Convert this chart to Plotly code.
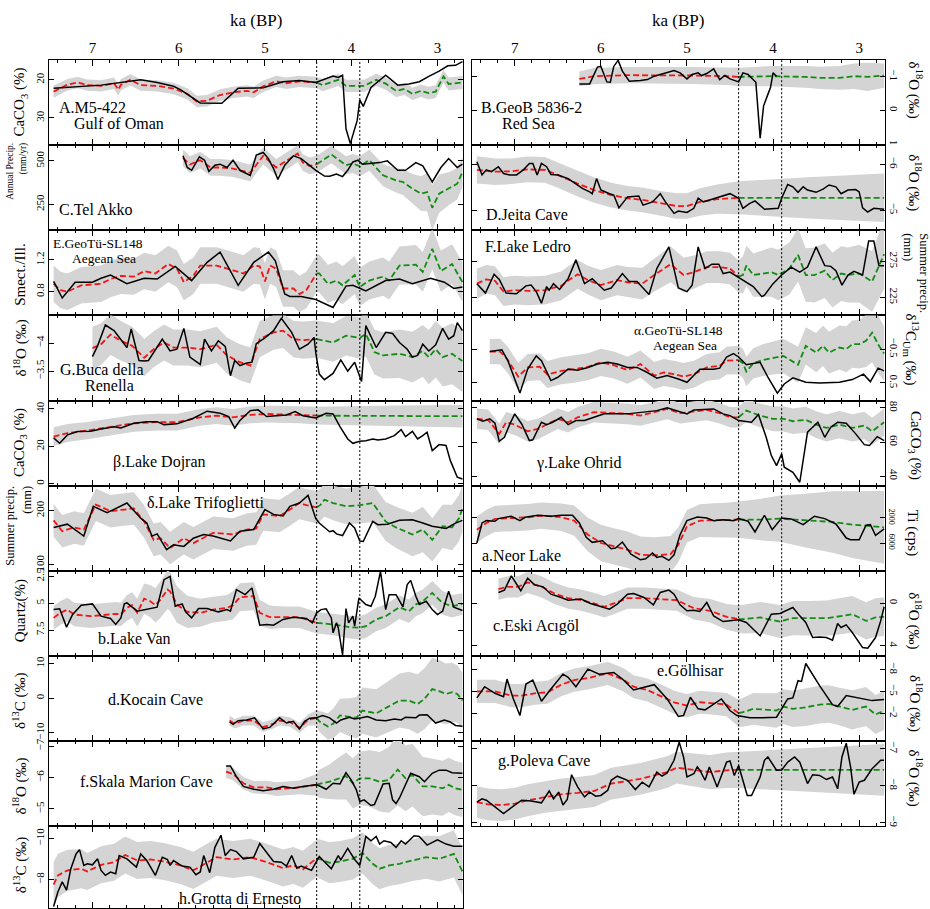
import plotly.graph_objects as go

W, H = 930, 909
FONT = "Liberation Serif"
SPLIT = 4.4
EVENTS = [4.4, 3.9]

# ---------------- data (ka BP, values) ----------------
# A. M5-422 Gulf of Oman, CaCO3 (%)
A_obs_ka = [7.45, 6.90, 6.44, 6.25, 6.06, 5.98, 5.75, 5.50, 5.31, 5.02, 4.79, 4.60, 4.41, 4.21, 4.15, 4.10, 4.06, 4.01, 3.93, 3.90, 3.86, 3.77, 3.60, 3.46, 3.33, 3.21, 3.10, 2.98, 2.88, 2.79, 2.71]
A_obs = [22.2, 21.4, 20.0, 20.7, 21.7, 22.6, 26.1, 26.2, 22.2, 22.1, 20.5, 20.2, 20.7, 19.0, 19.4, 18.8, 32.9, 36.8, 30.7, 25.3, 27.0, 22.0, 18.8, 21.4, 21.1, 20.5, 19.1, 17.7, 16.3, 16.2, 15.2]
A_fit_ka = [7.45, 7.29, 7.17, 7.06, 6.90, 6.75, 6.70, 6.67, 6.56, 6.44, 6.25, 6.06, 5.90, 5.79, 5.67, 5.52, 5.37, 5.21, 5.13, 5.02, 4.87, 4.75, 4.60, 4.40, 4.33, 4.15, 4.06, 3.85, 3.71, 3.60, 3.48, 3.38, 3.29, 3.19, 3.10, 3.02, 2.93, 2.87, 2.71]
A_fit = [23.1, 21.3, 20.7, 21.4, 21.6, 20.9, 22.6, 21.3, 20.0, 21.4, 21.6, 22.3, 23.7, 25.7, 25.5, 24.0, 23.3, 22.9, 23.3, 21.7, 20.4, 20.9, 20.4, 20.7, 21.4, 20.0, 21.6, 21.6, 20.0, 21.0, 22.9, 22.4, 23.7, 22.9, 23.5, 23.1, 19.1, 21.1, 20.7]
A_fit_hw = [1.6, 1.5, 1.5, 1.5, 1.5, 1.5, 1.5, 1.5, 1.5, 1.5, 1.5, 1.5, 1.5, 1.5, 1.5, 1.5, 1.5, 1.5, 1.5, 1.5, 1.5, 1.5, 1.5, 1.5, 1.6, 1.6, 1.6, 1.6, 1.6, 1.6, 1.6, 1.6, 1.6, 1.6, 1.7, 1.7, 1.7, 1.7, 1.7]

# C. Tel Akko, annual precip (mm/yr)
C_obs_ka = [5.95, 5.90, 5.85, 5.76, 5.70, 5.65, 5.58, 5.52, 5.44, 5.37, 5.29, 5.17, 5.10, 5.02, 4.96, 4.90, 4.85, 4.77, 4.67, 4.58, 4.41, 4.31, 4.25, 4.17, 4.10, 4.04, 3.98, 3.92, 3.87, 3.67, 3.58, 3.46, 3.37, 3.25, 3.17, 3.06, 2.96, 2.87, 2.77, 2.71]
C_obs = [529, 462, 446, 523, 504, 440, 475, 481, 462, 504, 446, 417, 533, 548, 513, 456, 394, 475, 529, 513, 446, 413, 412, 425, 410, 446, 494, 504, 481, 490, 500, 446, 446, 490, 471, 379, 462, 513, 462, 481]
C_fit_ka = [5.95, 5.87, 5.75, 5.63, 5.52, 5.37, 5.17, 5.02, 4.87, 4.71, 4.62, 4.56, 4.48, 4.40, 4.37, 4.23, 4.06, 3.98, 3.90, 3.79, 3.63, 3.48, 3.40, 3.29, 3.19, 3.12, 3.06, 2.98, 2.87, 2.77, 2.71]
C_fit = [517, 479, 504, 462, 462, 456, 431, 529, 462, 510, 542, 490, 471, 481, 490, 537, 475, 485, 469, 504, 417, 388, 379, 340, 312, 321, 231, 312, 340, 369, 437]
C_fit_hw = [48, 48, 48, 48, 48, 48, 48, 48, 48, 48, 48, 48, 48, 48, 48, 50, 52, 55, 58, 60, 63, 70, 75, 85, 100, 110, 130, 110, 95, 90, 85]

# E. GeoTü-SL148 Aegean Sea, Smect./Ill.
E_obs_ka = [7.45, 7.35, 7.20, 7.00, 6.90, 6.79, 6.60, 6.40, 6.25, 6.04, 5.85, 5.67, 5.52, 5.31, 5.13, 4.96, 4.88, 4.77, 4.71, 4.58, 4.41, 4.21, 4.06, 3.98, 3.83, 3.71, 3.60, 3.44, 3.29, 3.08, 2.92, 2.81, 2.71]
E_obs = [0.93, 0.72, 0.92, 0.92, 0.97, 1.01, 0.90, 0.97, 0.96, 1.12, 0.94, 1.17, 1.30, 0.88, 1.17, 1.30, 1.19, 0.77, 0.74, 0.74, 0.70, 0.60, 0.87, 0.88, 0.81, 0.88, 0.94, 0.96, 0.90, 0.97, 0.92, 0.84, 0.86]
E_fit_ka = [7.45, 7.37, 7.29, 7.13, 6.90, 6.79, 6.67, 6.52, 6.40, 6.27, 6.12, 6.02, 5.94, 5.83, 5.75, 5.56, 5.37, 5.25, 5.13, 5.06, 5.00, 4.94, 4.87, 4.79, 4.67, 4.60, 4.52, 4.40, 4.37, 4.27, 4.17, 4.10, 3.96, 3.90, 3.79, 3.63, 3.56, 3.44, 3.25, 3.17, 3.06, 2.96, 2.83, 2.71]
E_fit = [0.90, 0.82, 0.80, 0.88, 0.90, 0.96, 1.00, 0.99, 1.06, 1.03, 1.15, 1.09, 0.92, 1.00, 1.13, 1.13, 1.07, 1.03, 1.13, 1.12, 0.93, 1.13, 1.09, 0.84, 0.84, 0.77, 0.82, 1.03, 1.03, 0.90, 0.94, 0.88, 1.01, 0.86, 0.94, 0.99, 0.94, 1.13, 1.14, 1.05, 1.34, 1.06, 1.15, 0.92]
E_fit_hw = [0.23, 0.23, 0.23, 0.23, 0.23, 0.23, 0.23, 0.23, 0.23, 0.23, 0.23, 0.23, 0.23, 0.23, 0.23, 0.23, 0.23, 0.23, 0.23, 0.23, 0.23, 0.23, 0.23, 0.23, 0.23, 0.23, 0.23, 0.23, 0.24, 0.24, 0.24, 0.24, 0.24, 0.24, 0.24, 0.24, 0.24, 0.24, 0.25, 0.25, 0.26, 0.26, 0.25, 0.25]

# G. Buca della Renella, d18O
G_obs_ka = [7.00, 6.94, 6.85, 6.75, 6.60, 6.55, 6.46, 6.40, 6.35, 6.27, 6.19, 6.10, 6.02, 5.94, 5.87, 5.75, 5.70, 5.62, 5.54, 5.46, 5.40, 5.35, 5.29, 5.22, 5.15, 5.10, 5.00, 4.90, 4.81, 4.69, 4.60, 4.50, 4.43, 4.41, 4.37, 4.31, 4.21, 4.12, 4.04, 3.96, 3.88, 3.83, 3.71, 3.60, 3.52, 3.44, 3.35, 3.29, 3.23, 3.17, 3.10, 3.02, 2.94, 2.87, 2.81, 2.77, 2.71]
G_obs = [-3.76, -3.95, -4.32, -4.22, -3.92, -4.25, -3.69, -3.68, -3.69, -3.89, -4.07, -3.86, -3.89, -4.26, -3.75, -3.62, -4.07, -3.86, -4.04, -3.94, -3.42, -3.69, -3.60, -3.64, -3.66, -3.99, -4.09, -4.22, -4.44, -4.19, -3.89, -3.98, -4.10, -3.82, -3.45, -3.35, -3.46, -3.70, -3.50, -3.66, -3.32, -4.31, -3.92, -4.19, -4.17, -4.01, -3.89, -3.75, -3.78, -3.98, -3.86, -3.97, -4.26, -4.07, -4.13, -4.36, -4.22]
G_fit_ka = [7.00, 6.90, 6.79, 6.67, 6.54, 6.44, 6.40, 6.29, 6.17, 6.06, 5.90, 5.75, 5.56, 5.44, 5.29, 5.17, 5.06, 4.90, 4.79, 4.67, 4.56, 4.40, 4.21, 4.06, 3.90, 3.83, 3.73, 3.63, 3.44, 3.29, 3.17, 3.10, 3.02, 2.94, 2.83, 2.71]
G_fit = [-3.91, -3.98, -4.15, -4.04, -3.95, -3.81, -3.74, -3.89, -4.01, -3.92, -3.92, -3.89, -3.97, -3.78, -3.66, -3.60, -4.07, -4.19, -4.22, -4.07, -4.05, -4.07, -4.01, -4.13, -4.09, -4.16, -3.84, -3.78, -3.81, -3.75, -3.86, -3.75, -3.89, -3.75, -3.81, -3.68]
G_fit_hw = [0.38, 0.37, 0.36, 0.35, 0.34, 0.33, 0.33, 0.32, 0.32, 0.32, 0.32, 0.32, 0.32, 0.32, 0.32, 0.32, 0.32, 0.31, 0.31, 0.32, 0.33, 0.33, 0.34, 0.35, 0.37, 0.40, 0.40, 0.41, 0.43, 0.45, 0.46, 0.48, 0.50, 0.52, 0.54, 0.55]

# beta. Lake Dojran, CaCO3 (%)
Beta_obs_ka = [7.45, 7.38, 7.29, 7.17, 7.02, 6.90, 6.75, 6.67, 6.52, 6.37, 6.25, 6.17, 6.02, 5.83, 5.67, 5.52, 5.42, 5.35, 5.29, 5.17, 5.08, 4.98, 4.87, 4.75, 4.65, 4.56, 4.41, 4.29, 4.21, 4.13, 4.04, 3.98, 3.90, 3.83, 3.75, 3.69, 3.60, 3.50, 3.42, 3.37, 3.29, 3.23, 3.17, 3.12, 3.06, 2.98, 2.90, 2.85, 2.81, 2.77, 2.71]
Beta_obs = [24.5, 21.6, 26.1, 27.9, 28.0, 29.3, 30.5, 29.8, 32.3, 33.2, 33.2, 31.6, 32.0, 35.0, 38.8, 37.7, 35.9, 29.8, 33.8, 39.1, 39.5, 35.9, 36.4, 36.8, 38.6, 36.4, 35.2, 37.7, 37.3, 30.5, 23.9, 21.6, 22.7, 23.0, 23.9, 23.4, 23.9, 25.7, 28.9, 25.2, 28.0, 23.9, 25.7, 27.5, 17.7, 20.9, 20.4, 12.3, 7.9, 3.4, 2.5]
Beta_fit_ka = [7.45, 7.29, 7.06, 6.79, 6.52, 6.25, 6.02, 5.75, 5.56, 5.37, 5.17, 4.98, 4.79, 4.60, 4.40, 3.50, 2.71]
Beta_fit = [25.2, 27.1, 28.4, 30.2, 32.3, 32.9, 32.9, 35.5, 36.4, 35.5, 36.8, 37.3, 37.0, 37.0, 36.4, 36.3, 36.1]
Beta_fit_hw = [5.0, 4.8, 4.6, 4.5, 4.5, 4.5, 4.5, 4.5, 4.5, 4.5, 4.5, 4.5, 4.5, 4.6, 4.8, 5.5, 6.0]

# delta. Lake Trifoglietti, summer precip (mm)
Delta_obs_ka = [7.45, 7.29, 7.10, 6.99, 6.83, 6.60, 6.44, 6.37, 6.31, 6.25, 6.14, 6.06, 5.94, 5.83, 5.71, 5.60, 5.40, 5.29, 5.13, 5.00, 4.90, 4.79, 4.71, 4.60, 4.50, 4.41, 4.37, 4.25, 4.21, 4.17, 4.10, 4.02, 3.96, 3.90, 3.86, 3.75, 3.69, 3.58, 3.44, 3.29, 3.17, 3.06, 2.90, 2.79, 2.71]
Delta_obs = [169, 175, 153, 208, 196, 214, 186, 177, 153, 157, 128, 137, 134, 149, 156, 153, 144, 162, 165, 202, 193, 190, 208, 214, 228, 185, 177, 161, 163, 157, 154, 177, 168, 144, 143, 180, 174, 175, 182, 183, 177, 171, 167, 177, 182]
Delta_fit_ka = [7.45, 7.35, 7.21, 7.10, 6.96, 6.79, 6.63, 6.52, 6.40, 6.29, 6.21, 6.10, 5.94, 5.83, 5.60, 5.37, 5.21, 5.10, 5.02, 4.83, 4.71, 4.60, 4.52, 4.40, 4.36, 4.31, 4.21, 4.06, 3.90, 3.75, 3.60, 3.48, 3.29, 3.17, 3.06, 2.94, 2.83, 2.75, 2.71]
Delta_fit = [182, 162, 169, 165, 211, 199, 202, 204, 180, 146, 149, 131, 149, 140, 159, 156, 165, 167, 193, 190, 202, 214, 210, 206, 210, 220, 214, 208, 210, 214, 180, 169, 156, 165, 146, 171, 169, 186, 204]
Delta_fit_hw = [30, 30, 30, 30, 30, 30, 30, 30, 30, 30, 30, 30, 30, 30, 30, 30, 30, 30, 30, 30, 30, 30, 30, 30, 30, 31, 32, 33, 34, 35, 36, 38, 40, 42, 40, 40, 42, 43, 43]

# b. Lake Van, Quartz (%)
Van_obs_ka = [7.45, 7.38, 7.30, 7.23, 7.13, 7.00, 6.90, 6.79, 6.73, 6.67, 6.63, 6.60, 6.48, 6.37, 6.25, 6.17, 6.10, 6.04, 5.96, 5.92, 5.85, 5.77, 5.67, 5.54, 5.44, 5.40, 5.33, 5.23, 5.15, 5.06, 4.98, 4.90, 4.79, 4.67, 4.52, 4.45, 4.40, 4.35, 4.29, 4.23, 4.21, 4.17, 4.15, 4.10, 4.06, 4.03, 3.98, 3.96, 3.91, 3.83, 3.77, 3.72, 3.66, 3.60, 3.56, 3.48, 3.40, 3.35, 3.31, 3.25, 3.21, 3.13, 3.06, 3.00, 2.94, 2.87, 2.81, 2.71]
Van_obs = [5.59, 5.52, 7.22, 6.05, 5.18, 5.06, 6.20, 6.42, 6.97, 6.36, 5.06, 4.97, 5.74, 5.59, 5.37, 2.81, 2.50, 5.28, 5.06, 5.80, 6.36, 5.49, 5.49, 5.80, 5.59, 5.74, 3.73, 4.20, 3.58, 7.04, 6.97, 7.04, 6.51, 6.30, 6.42, 6.82, 5.89, 5.59, 5.52, 6.36, 7.75, 6.82, 7.28, 9.81, 5.49, 6.82, 6.20, 7.13, 4.51, 5.12, 5.28, 4.35, 2.04, 5.59, 4.20, 4.20, 5.34, 3.27, 2.87, 4.35, 5.12, 4.81, 5.59, 6.05, 5.74, 3.89, 5.37, 5.68]
Van_fit_ka = [7.45, 7.37, 7.29, 7.21, 7.02, 6.83, 6.73, 6.67, 6.60, 6.54, 6.48, 6.40, 6.33, 6.27, 6.21, 6.13, 6.10, 6.02, 5.90, 5.75, 5.60, 5.44, 5.37, 5.29, 5.13, 5.06, 4.94, 4.79, 4.60, 4.40, 4.21, 4.02, 3.90, 3.83, 3.71, 3.60, 3.44, 3.33, 3.25, 3.17, 3.06, 2.94, 2.83, 2.71]
Van_fit = [6.36, 5.89, 5.59, 6.05, 6.20, 6.05, 5.99, 6.05, 5.43, 5.18, 5.89, 4.57, 4.81, 5.18, 4.66, 3.73, 3.89, 5.12, 5.80, 5.89, 5.59, 5.43, 5.18, 4.44, 4.35, 5.89, 6.30, 6.30, 6.30, 6.82, 6.97, 7.22, 7.28, 7.13, 6.51, 6.20, 5.37, 5.74, 5.12, 4.81, 4.04, 4.97, 5.28, 5.06]
Van_fit_hw = [1.1, 1.1, 1.1, 1.1, 1.1, 1.1, 1.1, 1.1, 1.2, 1.2, 1.3, 1.4, 1.5, 1.6, 1.7, 1.8, 1.8, 1.7, 1.5, 1.3, 1.2, 1.2, 1.3, 1.3, 1.3, 1.2, 1.1, 1.0, 1.0, 1.0, 1.0, 1.05, 1.1, 1.1, 1.1, 1.1, 1.1, 1.1, 1.1, 1.1, 1.1, 1.1, 1.05, 1.0]

# d. Kocain Cave, d13C
Koc_obs_ka = [5.41, 5.37, 5.31, 5.21, 5.12, 5.02, 4.94, 4.83, 4.75, 4.67, 4.60, 4.54, 4.48, 4.41, 4.33, 4.25, 4.17, 4.12, 4.02, 3.96, 3.88, 3.81, 3.71, 3.60, 3.50, 3.42, 3.37, 3.25, 3.21, 3.12, 3.02, 2.92, 2.85, 2.79, 2.71]
Koc_obs = [-6.9, -7.6, -6.5, -6.3, -5.7, -8.9, -8.4, -5.7, -7.2, -6.7, -8.9, -6.7, -5.8, -5.7, -5.0, -5.7, -7.2, -6.3, -5.5, -6.0, -5.7, -5.3, -6.3, -6.5, -6.0, -6.3, -5.5, -5.7, -4.9, -4.8, -7.2, -6.3, -6.9, -7.9, -8.1]
Koc_fit_ka = [5.41, 5.35, 5.25, 5.13, 5.02, 4.90, 4.83, 4.71, 4.60, 4.50, 4.40, 4.37, 4.27, 4.21, 4.13, 4.02, 3.94, 3.87, 3.71, 3.58, 3.44, 3.33, 3.23, 3.15, 3.06, 2.98, 2.90, 2.83, 2.77, 2.71]
Koc_fit = [-6.5, -7.4, -6.5, -6.5, -8.4, -7.4, -6.5, -6.9, -8.6, -6.3, -5.7, -6.7, -8.2, -7.4, -5.0, -5.5, -5.7, -3.6, -4.4, -2.6, -0.7, -0.7, -1.7, -0.2, 2.6, 2.0, 1.2, 1.7, 1.2, -0.7]
Koc_fit_hw = [1.4, 1.4, 1.4, 1.4, 1.4, 1.4, 1.4, 1.4, 1.5, 1.6, 2.2, 3.0, 3.8, 4.3, 4.8, 5.5, 6.0, 6.7, 7.0, 7.3, 7.8, 8.3, 8.6, 8.8, 9.1, 9.0, 8.8, 8.5, 8.3, 8.1]

# f. Skala Marion Cave, d18O
Sk_obs_ka = [5.45, 5.40, 5.33, 5.25, 5.13, 5.02, 4.90, 4.79, 4.67, 4.56, 4.41, 4.37, 4.29, 4.21, 4.13, 4.06, 4.00, 3.94, 3.90, 3.85, 3.77, 3.73, 3.63, 3.56, 3.52, 3.48, 3.44, 3.38, 3.31, 3.21, 3.15, 3.06, 2.98, 2.90, 2.83, 2.71]
Sk_obs = [-6.37, -6.37, -6.03, -5.72, -5.63, -5.58, -5.63, -5.72, -5.66, -5.72, -5.77, -5.74, -5.63, -5.82, -5.80, -6.16, -5.93, -5.61, -5.24, -5.29, -5.11, -5.14, -5.80, -5.82, -5.29, -5.17, -5.35, -5.72, -6.14, -6.03, -5.87, -6.14, -6.24, -6.24, -6.16, -6.14]
Sk_fit_ka = [5.45, 5.37, 5.25, 5.13, 4.98, 4.87, 4.75, 4.60, 4.40, 4.37, 4.25, 4.17, 4.06, 3.98, 3.90, 3.79, 3.67, 3.56, 3.46, 3.37, 3.29, 3.17, 3.06, 2.94, 2.87, 2.79, 2.71]
Sk_fit = [-6.19, -6.12, -5.82, -5.69, -5.69, -5.63, -5.66, -5.69, -5.77, -5.80, -5.87, -5.95, -6.05, -5.82, -5.98, -5.98, -5.87, -5.93, -6.26, -5.98, -6.08, -5.72, -5.72, -5.66, -5.77, -5.66, -5.61]
Sk_fit_hw = [0.20, 0.20, 0.20, 0.20, 0.21, 0.22, 0.22, 0.22, 0.35, 0.45, 0.55, 0.65, 0.75, 0.80, 0.85, 0.90, 0.95, 1.05, 1.15, 1.05, 1.00, 0.95, 0.90, 0.88, 0.87, 0.87, 0.87]

# h. Grotta di Ernesto, d13C
Er_obs_ka = [7.45, 7.40, 7.35, 7.30, 7.25, 7.19, 7.15, 7.10, 7.06, 7.00, 6.94, 6.90, 6.85, 6.79, 6.73, 6.69, 6.60, 6.49, 6.44, 6.37, 6.27, 6.19, 6.13, 6.10, 6.06, 5.96, 5.87, 5.80, 5.75, 5.71, 5.64, 5.58, 5.51, 5.46, 5.40, 5.33, 5.25, 5.13, 5.06, 4.98, 4.90, 4.81, 4.75, 4.69, 4.63, 4.58, 4.46, 4.37, 4.29, 4.23, 4.15, 4.12, 4.04, 3.96, 3.90, 3.83, 3.77, 3.71, 3.67, 3.62, 3.54, 3.48, 3.42, 3.37, 3.27, 3.21, 3.12, 3.00, 2.90, 2.81, 2.71]
Er_obs = [-6.69, -7.41, -7.89, -7.49, -8.53, -9.25, -9.46, -8.69, -8.77, -8.72, -9.01, -8.45, -8.21, -8.37, -8.29, -9.17, -9.01, -8.61, -9.25, -8.93, -8.21, -9.09, -8.98, -8.69, -8.93, -8.66, -8.61, -8.24, -8.37, -9.17, -8.34, -9.57, -10.16, -9.17, -9.46, -9.36, -9.01, -9.09, -9.76, -9.33, -8.88, -8.85, -8.66, -9.17, -8.56, -8.66, -8.45, -9.12, -8.77, -8.53, -9.17, -8.96, -9.52, -8.98, -8.69, -10.10, -9.89, -10.10, -9.73, -9.89, -9.81, -9.57, -9.89, -9.73, -10.13, -10.10, -9.68, -9.94, -9.73, -9.62, -9.62]
Er_fit_ka = [7.45, 7.40, 7.29, 7.13, 7.06, 6.90, 6.75, 6.62, 6.48, 6.33, 6.17, 5.98, 5.83, 5.67, 5.56, 5.37, 5.17, 4.98, 4.79, 4.67, 4.56, 4.40, 4.37, 4.25, 4.13, 3.98, 3.87, 3.75, 3.67, 3.56, 3.44, 3.29, 3.13, 2.98, 2.81, 2.71]
Er_fit = [-7.76, -8.21, -8.45, -8.53, -8.40, -8.72, -8.85, -9.20, -8.93, -8.98, -8.88, -8.69, -8.45, -8.85, -9.09, -8.98, -9.09, -8.85, -8.56, -8.69, -8.50, -9.04, -9.01, -8.82, -8.88, -9.01, -9.30, -8.77, -8.53, -8.69, -8.77, -8.93, -9.09, -9.01, -9.25, -8.40]
Er_fit_hw = [1.1, 1.05, 1.0, 0.95, 0.9, 0.9, 0.9, 0.9, 0.9, 0.9, 0.9, 0.9, 0.9, 0.9, 0.9, 0.9, 0.9, 0.9, 0.9, 0.9, 0.9, 0.9, 0.95, 1.0, 1.0, 1.0, 1.0, 1.0, 1.0, 1.0, 1.0, 1.0, 1.05, 1.1, 1.15, 1.15]

# B. GeoB 5836-2 Red Sea, d18O
B_obs_ka = [6.25, 6.13, 6.04, 6.00, 5.93, 5.89, 5.85, 5.80, 5.75, 5.67, 5.54, 5.46, 5.38, 5.23, 5.15, 5.08, 5.00, 4.94, 4.87, 4.83, 4.77, 4.69, 4.62, 4.56, 4.50, 4.40, 4.35, 4.29, 4.23, 4.20, 4.15, 4.11, 4.06, 4.03, 4.00, 3.96]
B_obs = [-0.79, -0.79, -1.29, -1.31, -0.85, -0.84, -1.31, -1.49, -1.17, -0.87, -0.89, -0.92, -1.02, -1.12, -1.19, -1.12, -0.94, -1.07, -1.12, -1.04, -1.10, -1.24, -0.92, -1.04, -0.94, -0.85, -1.12, -1.07, -0.90, -0.84, 0.82, -0.14, -0.48, -0.68, -1.12, -1.02]
B_fit_ka = [6.25, 6.08, 5.69, 5.31, 4.92, 4.54, 4.40, 4.02, 3.62, 3.46, 3.23, 3.06, 2.90, 2.71]
B_fit = [-0.94, -1.02, -1.05, -1.05, -1.04, -1.02, -1.00, -1.02, -1.00, -0.97, -0.97, -1.02, -1.00, -1.04]
B_fit_hw = [0.22, 0.24, 0.24, 0.24, 0.25, 0.26, 0.27, 0.30, 0.32, 0.33, 0.35, 0.38, 0.42, 0.36]

# D. Jeita Cave, d18O
D_obs_ka = [7.44, 7.38, 7.33, 7.27, 7.19, 7.13, 7.06, 6.98, 6.90, 6.83, 6.79, 6.74, 6.69, 6.63, 6.58, 6.50, 6.38, 6.29, 6.21, 6.13, 6.10, 6.05, 6.00, 5.90, 5.85, 5.79, 5.69, 5.56, 5.51, 5.40, 5.31, 5.25, 5.15, 5.10, 5.00, 4.92, 4.87, 4.81, 4.65, 4.50, 4.40, 4.35, 4.27, 4.21, 4.10, 3.94, 3.90, 3.83, 3.77, 3.71, 3.65, 3.60, 3.50, 3.42, 3.35, 3.27, 3.21, 3.13, 3.04, 3.00, 2.96, 2.90, 2.83, 2.71]
D_obs = [-6.06, -5.77, -5.88, -5.84, -5.95, -5.80, -5.77, -5.77, -5.88, -6.02, -6.02, -5.77, -6.02, -5.95, -5.78, -5.77, -5.69, -5.58, -5.47, -5.40, -5.36, -5.69, -5.44, -5.36, -5.33, -5.05, -5.29, -5.31, -5.11, -5.18, -5.36, -5.18, -4.93, -4.98, -4.95, -5.04, -5.26, -5.18, -5.27, -5.36, -5.26, -5.04, -5.15, -5.20, -5.02, -5.04, -5.26, -5.56, -5.51, -5.39, -5.51, -5.44, -5.39, -5.46, -5.55, -5.51, -5.36, -5.44, -5.45, -5.40, -5.05, -4.96, -5.04, -5.02]
D_fit_ka = [7.44, 7.23, 7.04, 6.85, 6.65, 6.50, 6.27, 6.08, 5.88, 5.69, 5.50, 5.31, 5.12, 5.00, 4.85, 4.65, 4.40, 3.60, 2.71]
D_fit = [-5.88, -5.84, -5.85, -5.89, -5.88, -5.77, -5.58, -5.44, -5.33, -5.26, -5.22, -5.15, -5.09, -5.09, -5.18, -5.24, -5.27, -5.27, -5.27]
D_fit_hw = [0.30, 0.29, 0.28, 0.28, 0.28, 0.28, 0.28, 0.28, 0.27, 0.27, 0.27, 0.27, 0.28, 0.28, 0.30, 0.32, 0.36, 0.45, 0.53]

# F. Lake Ledro, summer precip (mm)
F_obs_ka = [7.44, 7.34, 7.24, 7.18, 7.10, 6.98, 6.87, 6.81, 6.75, 6.69, 6.63, 6.60, 6.55, 6.48, 6.38, 6.29, 6.19, 6.10, 5.96, 5.88, 5.75, 5.67, 5.58, 5.44, 5.35, 5.21, 5.10, 5.00, 4.94, 4.87, 4.79, 4.71, 4.63, 4.58, 4.50, 4.40, 4.23, 4.13, 4.10, 4.00, 3.90, 3.79, 3.69, 3.60, 3.50, 3.40, 3.33, 3.27, 3.20, 3.13, 3.06, 2.96, 2.89, 2.83, 2.77, 2.71]
F_obs = [244, 231, 257, 250, 231, 230, 241, 242, 233, 217, 240, 235, 244, 236, 251, 277, 244, 251, 235, 238, 258, 247, 247, 229, 265, 295, 238, 233, 242, 295, 265, 271, 271, 258, 260, 253, 240, 226, 228, 244, 256, 267, 260, 267, 295, 269, 268, 262, 242, 256, 261, 256, 303, 303, 269, 269]
F_fit_ka = [7.44, 7.33, 7.23, 7.13, 7.00, 6.85, 6.65, 6.46, 6.37, 6.27, 6.15, 6.00, 5.81, 5.69, 5.52, 5.38, 5.19, 5.04, 4.92, 4.77, 4.62, 4.50, 4.40, 4.35, 4.31, 4.23, 4.12, 4.02, 3.94, 3.81, 3.71, 3.62, 3.52, 3.40, 3.31, 3.21, 3.13, 3.00, 2.85, 2.77, 2.71]
F_fit = [244, 250, 248, 233, 235, 234, 235, 241, 249, 257, 249, 242, 249, 246, 244, 256, 271, 256, 260, 267, 267, 265, 254, 256, 269, 256, 258, 260, 256, 265, 284, 256, 256, 262, 249, 258, 256, 258, 247, 269, 285]
F_fit_hw = [21, 20, 20, 20, 20, 20, 20, 20, 20, 20, 20, 21, 21, 21, 22, 23, 25, 24, 23, 22, 22, 22, 22, 26, 28, 30, 32, 34, 35, 36, 37, 37, 38, 38, 38, 38, 38, 40, 42, 45, 48]

# alpha. GeoTü-SL148 Aegean Sea, d13C Um
Alpha_obs_ka = [7.29, 7.15, 7.08, 6.94, 6.85, 6.75, 6.69, 6.58, 6.50, 6.38, 6.27, 6.15, 6.04, 5.92, 5.81, 5.69, 5.58, 5.46, 5.35, 5.23, 5.10, 5.00, 4.85, 4.69, 4.62, 4.54, 4.46, 4.40, 4.31, 4.23, 4.15, 4.06, 3.95, 3.87, 3.77, 3.62, 3.46, 3.23, 3.08, 2.95, 2.87, 2.78, 2.71]
Alpha_obs = [-0.43, -0.48, -0.16, 0.80, 0.09, -0.30, -0.16, 0.43, 0.33, 0.09, 0.12, 0.04, -0.06, -0.11, -0.06, 0.04, 0.04, 0.19, 0.36, 0.28, 0.38, 0.48, 0.09, 0.09, 0.06, -0.27, -0.37, -0.27, -0.04, -0.08, -0.11, 0.33, 0.80, 0.53, 0.35, 0.48, 0.50, 0.48, 0.40, 0.24, 0.46, 0.06, 0.14]
Alpha_fit_ka = [7.29, 7.17, 7.08, 6.96, 6.85, 6.71, 6.62, 6.46, 6.31, 6.15, 6.00, 5.85, 5.69, 5.54, 5.38, 5.27, 5.15, 5.04, 4.92, 4.77, 4.62, 4.54, 4.40, 4.35, 4.31, 4.23, 4.12, 4.00, 3.88, 3.71, 3.62, 3.50, 3.42, 3.35, 3.23, 3.15, 3.08, 3.00, 2.92, 2.85, 2.77, 2.71]
Alpha_fit = [-0.43, -0.43, -0.18, 0.31, 0.04, 0.02, 0.25, 0.14, 0.09, 0.02, -0.11, -0.03, 0.12, -0.06, 0.28, 0.19, 0.24, 0.31, 0.24, 0.04, -0.01, -0.16, -0.18, -0.08, 0.16, -0.08, -0.18, -0.24, -0.30, -0.04, -0.60, -0.40, -0.60, -0.40, -0.55, -0.50, -0.65, -0.65, -0.75, -0.99, -0.60, -0.37]
Alpha_fit_hw = [0.37, 0.38, 0.39, 0.40, 0.40, 0.40, 0.40, 0.40, 0.40, 0.40, 0.40, 0.40, 0.40, 0.40, 0.40, 0.40, 0.40, 0.40, 0.40, 0.40, 0.40, 0.41, 0.42, 0.43, 0.44, 0.45, 0.47, 0.49, 0.51, 0.53, 0.55, 0.58, 0.60, 0.62, 0.65, 0.68, 0.70, 0.72, 0.78, 0.88, 0.85, 0.80]

# gamma. Lake Ohrid, CaCO3 (%)
Gamma_obs_ka = [7.44, 7.37, 7.29, 7.23, 7.18, 7.12, 7.06, 7.00, 6.92, 6.83, 6.79, 6.69, 6.63, 6.56, 6.46, 6.38, 6.29, 6.19, 6.08, 5.96, 5.69, 5.46, 5.35, 5.23, 5.12, 5.00, 4.92, 4.69, 4.58, 4.50, 4.40, 4.25, 4.17, 4.08, 4.02, 3.96, 3.90, 3.87, 3.77, 3.69, 3.60, 3.48, 3.40, 3.33, 3.25, 3.15, 3.04, 2.94, 2.88, 2.79, 2.71]
Gamma_obs = [73.6, 72.2, 73.6, 71.0, 60.5, 62.8, 70.2, 76.5, 70.6, 60.9, 61.3, 71.6, 70.2, 71.6, 74.5, 70.2, 72.6, 72.6, 74.5, 76.5, 76.5, 77.5, 78.4, 80.0, 78.4, 76.5, 78.8, 79.4, 76.5, 75.5, 72.6, 71.6, 76.1, 62.8, 52.1, 46.2, 53.1, 45.3, 42.3, 36.5, 65.8, 71.6, 62.8, 68.7, 71.6, 71.0, 64.8, 58.5, 58.0, 63.2, 60.9]
Gamma_fit_ka = [7.44, 7.31, 7.18, 7.10, 7.00, 6.85, 6.73, 6.62, 6.50, 6.38, 6.27, 6.08, 5.92, 5.81, 5.69, 5.54, 5.38, 5.23, 5.08, 4.92, 4.77, 4.62, 4.50, 4.40, 4.35, 4.31, 4.15, 4.00, 3.88, 3.77, 3.62, 3.50, 3.38, 3.23, 3.08, 2.94, 2.85, 2.71]
Gamma_fit = [73.6, 73.0, 64.8, 71.6, 70.2, 66.3, 67.7, 70.6, 73.6, 71.6, 74.5, 77.5, 76.9, 76.9, 76.5, 75.5, 77.5, 79.4, 76.9, 78.0, 78.8, 76.9, 74.5, 74.5, 76.5, 78.4, 75.5, 73.6, 73.6, 72.2, 73.0, 70.2, 68.3, 70.2, 68.3, 69.7, 66.3, 71.6]
Gamma_fit_hw = [6.0, 6.0, 6.0, 6.0, 6.0, 6.0, 6.0, 6.0, 6.0, 6.0, 6.0, 6.0, 6.0, 6.0, 6.0, 6.0, 6.0, 6.0, 6.0, 6.0, 6.0, 6.0, 6.0, 6.0, 6.5, 6.8, 7.0, 7.2, 7.4, 7.5, 7.6, 7.8, 8.0, 8.0, 8.0, 8.0, 8.0, 8.0]

# a. Neor Lake, Ti (cps)
Neor_obs_ka = [7.44, 7.38, 7.33, 7.23, 7.19, 7.04, 6.94, 6.88, 6.73, 6.58, 6.46, 6.33, 6.25, 6.17, 6.10, 5.98, 5.88, 5.83, 5.75, 5.65, 5.54, 5.48, 5.40, 5.35, 5.29, 5.21, 5.15, 5.08, 5.00, 4.88, 4.77, 4.69, 4.58, 4.46, 4.40, 4.29, 4.21, 4.10, 4.01, 3.90, 3.79, 3.65, 3.52, 3.40, 3.27, 3.15, 3.10, 3.00, 2.92, 2.87, 2.81, 2.71]
Neor_obs = [6000, 2800, 2430, 2530, 2110, 1730, 2430, 1890, 1570, 1730, 1570, 1570, 2800, 5090, 5890, 5630, 6910, 6800, 5840, 7760, 8670, 8510, 7600, 8290, 8130, 8770, 7870, 4670, 2430, 1840, 2000, 2430, 2270, 2430, 2110, 2530, 4240, 1570, 3870, 2000, 2160, 3070, 1730, 2110, 2960, 5200, 5470, 5470, 3170, 3070, 4770, 3760]
Neor_fit_ka = [7.44, 7.33, 7.23, 7.04, 6.85, 6.69, 6.46, 6.31, 6.15, 6.00, 5.85, 5.69, 5.54, 5.38, 5.19, 5.10, 5.00, 4.85, 4.69, 4.54, 4.40, 4.15, 3.92, 3.62, 3.31, 3.08, 2.71]
Neor_fit = [3870, 2800, 2160, 2000, 1890, 1630, 1890, 2430, 4670, 6000, 6530, 7070, 7870, 7970, 7760, 6270, 3330, 2430, 2370, 2370, 2270, 2270, 2110, 2430, 2640, 3070, 3490]
Neor_fit_hw = [2100, 2100, 2100, 2100, 2100, 2100, 2200, 2400, 2700, 2900, 2900, 2900, 2900, 2900, 2900, 2800, 2600, 2600, 2700, 2800, 2900, 3300, 3700, 4300, 4900, 5300, 5800]

# c. Eski Acigöl, d18O
Eski_obs_ka = [7.19, 7.12, 7.04, 6.93, 6.85, 6.77, 6.67, 6.58, 6.46, 6.38, 6.23, 6.12, 5.90, 5.81, 5.69, 5.62, 5.50, 5.39, 5.31, 5.21, 5.15, 5.08, 5.00, 4.92, 4.85, 4.77, 4.69, 4.58, 4.40, 4.31, 4.23, 4.15, 4.10, 4.02, 3.92, 3.85, 3.77, 3.69, 3.62, 3.54, 3.46, 3.38, 3.31, 3.25, 3.21, 3.15, 3.08, 2.96, 2.90, 2.81, 2.75, 2.71]
Eski_obs = [-1.00, -1.22, -2.56, -1.16, -2.34, -1.72, -1.53, -0.84, -0.53, -0.28, -0.38, 0.03, 0.56, 0.09, -0.84, -0.91, -0.53, 0.16, -1.00, -1.22, -0.84, 0.16, 0.72, 0.66, 0.78, -0.06, 1.19, 1.72, 1.56, 1.81, 2.44, 3.06, 2.28, 1.03, 0.97, 0.72, 0.41, 1.19, 1.81, 3.22, 3.16, 3.22, 3.47, 1.91, 2.28, 2.03, 2.75, 4.16, 4.22, 3.22, 1.66, 0.34]
Eski_fit_ka = [7.19, 7.08, 6.96, 6.85, 6.69, 6.54, 6.38, 6.23, 6.08, 5.96, 5.85, 5.69, 5.50, 5.31, 5.12, 4.92, 4.73, 4.54, 4.40, 4.35, 4.15, 3.92, 3.77, 3.58, 3.38, 3.19, 3.08, 2.92, 2.81, 2.71]
Eski_fit = [-1.31, -1.53, -1.53, -1.94, -1.53, -0.91, -0.47, -0.28, 0.03, 0.34, 0.03, -0.47, -0.47, -0.38, -0.28, 0.47, 0.72, 1.28, 1.50, 1.50, 1.34, 1.72, 1.41, 1.41, 1.41, 1.19, 1.03, 1.66, 1.34, 1.28]
Eski_fit_hw = [1.0, 1.0, 1.0, 1.0, 1.0, 1.0, 1.0, 1.0, 1.0, 1.0, 1.0, 1.0, 1.0, 1.0, 1.0, 1.05, 1.1, 1.2, 1.3, 1.35, 1.45, 1.55, 1.6, 1.6, 1.65, 1.7, 1.7, 1.75, 1.8, 1.8]

# e. Gölhisar, d18O
Gol_obs_ka = [7.44, 7.35, 7.23, 7.13, 7.09, 7.02, 6.94, 6.87, 6.79, 6.69, 6.58, 6.44, 6.38, 6.29, 6.15, 6.02, 5.85, 5.75, 5.62, 5.38, 5.23, 5.10, 5.04, 4.96, 4.87, 4.79, 4.60, 4.50, 4.42, 4.27, 4.15, 3.96, 3.83, 3.77, 3.71, 3.67, 3.62, 3.46, 3.31, 3.25, 3.15, 3.00, 2.85, 2.71]
Gol_obs = [-4.11, -5.66, -4.75, -4.29, -6.72, -4.11, -1.68, -6.03, -6.58, -3.65, -5.34, -7.40, -6.95, -5.66, -8.09, -7.40, -7.63, -6.72, -5.21, -5.94, -3.97, -1.54, -1.68, -4.20, -2.60, -2.46, -3.97, -2.37, -1.68, -1.36, -1.36, -1.45, -3.97, -4.11, -6.49, -6.40, -8.87, -5.80, -3.19, -2.92, -4.43, -4.11, -3.74, -3.88]
Gol_fit_ka = [7.44, 7.23, 7.04, 6.92, 6.77, 6.62, 6.46, 6.31, 6.15, 5.92, 5.73, 5.62, 5.46, 5.31, 5.15, 5.00, 4.85, 4.69, 4.54, 4.40, 4.35, 4.23, 4.08, 3.96, 3.88, 3.77, 3.62, 3.46, 3.35, 3.23, 3.08, 2.92, 2.81, 2.71]
Gol_fit = [-5.02, -5.02, -4.43, -4.43, -4.75, -4.89, -5.94, -6.58, -6.86, -7.50, -6.58, -5.66, -5.21, -4.43, -3.51, -3.05, -3.51, -3.37, -3.19, -2.00, -2.14, -2.60, -2.46, -2.37, -2.92, -2.60, -2.82, -3.19, -3.28, -2.92, -2.46, -2.92, -1.82, -2.37]
Gol_fit_hw = [1.6, 1.6, 1.6, 1.6, 1.6, 1.6, 1.6, 1.6, 1.6, 1.6, 1.6, 1.6, 1.6, 1.6, 1.6, 1.6, 1.6, 1.6, 1.6, 1.9, 2.0, 2.2, 2.3, 2.4, 2.4, 2.5, 2.6, 2.6, 2.6, 2.6, 2.7, 2.7, 2.7, 2.7]

# g. Poleva Cave, d18O
Pol_obs_ka = [7.44, 7.38, 7.33, 7.23, 7.13, 7.04, 6.92, 6.81, 6.69, 6.60, 6.55, 6.49, 6.44, 6.39, 6.34, 6.27, 6.19, 6.13, 6.06, 6.00, 5.92, 5.88, 5.81, 5.69, 5.60, 5.52, 5.44, 5.35, 5.29, 5.23, 5.15, 5.09, 5.04, 5.00, 4.92, 4.88, 4.85, 4.79, 4.74, 4.65, 4.54, 4.50, 4.45, 4.40, 4.35, 4.30, 4.25, 4.15, 4.10, 4.06, 3.96, 3.90, 3.83, 3.75, 3.69, 3.60, 3.54, 3.46, 3.38, 3.31, 3.25, 3.20, 3.15, 3.10, 3.06, 3.00, 2.94, 2.85, 2.75, 2.71]
Pol_obs = [-8.44, -8.35, -8.39, -8.57, -8.75, -8.59, -8.39, -8.41, -8.46, -8.14, -8.35, -8.17, -8.52, -8.37, -7.70, -8.03, -8.30, -8.17, -8.28, -8.26, -8.12, -7.85, -7.74, -7.85, -8.10, -7.90, -8.03, -7.63, -7.74, -7.65, -7.31, -6.82, -7.22, -7.76, -7.67, -7.49, -7.58, -7.85, -7.49, -8.03, -7.36, -7.33, -7.72, -7.45, -7.85, -8.26, -8.26, -7.76, -7.31, -7.22, -7.58, -7.57, -7.36, -7.22, -7.36, -7.94, -7.70, -7.72, -7.83, -7.76, -8.08, -7.22, -6.85, -7.49, -8.23, -7.90, -7.85, -7.54, -7.31, -7.31]
Pol_fit_ka = [7.44, 7.31, 7.15, 7.00, 6.85, 6.65, 6.46, 6.27, 6.08, 5.88, 5.69, 5.54, 5.38, 5.23, 5.12, 4.92, 4.73, 4.54, 4.40, 2.71]
Pol_fit = [-8.44, -8.50, -8.52, -8.48, -8.39, -8.30, -8.23, -8.19, -8.14, -7.94, -7.87, -7.81, -7.72, -7.63, -7.51, -7.57, -7.63, -7.58, -7.57, -7.57]
Pol_fit_hw = [0.43, 0.43, 0.43, 0.43, 0.43, 0.43, 0.43, 0.43, 0.43, 0.43, 0.43, 0.43, 0.43, 0.43, 0.43, 0.44, 0.46, 0.48, 0.49, 0.70]

M = "\u2212"
# ---------------- panel definitions ----------------
LEFT = [
    dict(obs=(A_obs_ka, A_obs), fit=(A_fit_ka, A_fit, A_fit_hw), yr=[37.2, 14.8], tv=[20, 30], tt=["20", "30"]),
    dict(obs=(C_obs_ka, C_obs), fit=(C_fit_ka, C_fit, C_fit_hw), yr=[102, 590], tv=[250, 500], tt=["250", "500"]),
    dict(obs=(E_obs_ka, E_obs), fit=(E_fit_ka, E_fit, E_fit_hw), yr=[0.5, 1.575], tv=[0.8, 1.2], tt=["0.8", "1.2"]),
    dict(obs=(G_obs_ka, G_obs), fit=(G_fit_ka, G_fit, G_fit_hw), yr=[-2.98, -4.49], tv=[-4, -3.5], tt=[M + "4", M + "3.5"]),
    dict(obs=(Beta_obs_ka, Beta_obs), fit=(Beta_fit_ka, Beta_fit, Beta_fit_hw), yr=[-1.1, 44.5], tv=[0, 20, 40], tt=["0", "20", "40"]),
    dict(obs=(Delta_obs_ka, Delta_obs), fit=(Delta_fit_ka, Delta_fit, Delta_fit_hw), yr=[89, 246], tv=[100, 200], tt=["100", "200"]),
    dict(obs=(Van_obs_ka, Van_obs), fit=(Van_fit_ka, Van_fit, Van_fit_hw), yr=[9.9, 1.98], tv=[2.5, 5, 7.5], tt=["2.5", "5", "7.5"]),
    dict(obs=(Koc_obs_ka, Koc_obs), fit=(Koc_fit_ka, Koc_fit, Koc_fit_hw), yr=[-12.4, 12.2], tv=[-10, 0, 10], tt=[M + "10", "0", "10"]),
    dict(obs=(Sk_obs_ka, Sk_obs), fit=(Sk_fit_ka, Sk_fit, Sk_fit_hw), yr=[-4.45, -7.17], tv=[-7, -6, -5], tt=[M + "7", M + "6", M + "5"]),
    dict(obs=(Er_obs_ka, Er_obs), fit=(Er_fit_ka, Er_fit, Er_fit_hw), yr=[-6.62, -10.6], tv=[-10, -8], tt=[M + "10", M + "8"]),
]
RIGHT = [
    dict(obs=(B_obs_ka, B_obs), fit=(B_fit_ka, B_fit, B_fit_hw), yr=[1.03, -1.5], tv=[-1, 0, 1], tt=[M + "1", "0", "1"]),
    dict(obs=(D_obs_ka, D_obs), fit=(D_fit_ka, D_fit, D_fit_hw), yr=[-4.56, -6.42], tv=[-6, -5], tt=[M + "6", M + "5"]),
    dict(obs=(F_obs_ka, F_obs), fit=(F_fit_ka, F_fit, F_fit_hw), yr=[200, 318], tv=[225, 275], tt=["225", "275"]),
    dict(obs=(Alpha_obs_ka, Alpha_obs), fit=(Alpha_fit_ka, Alpha_fit, Alpha_fit_hw), yr=[1.02, -1.5], tv=[-0.5, 0.5], tt=[M + "0.5", "0.5"]),
    dict(obs=(Gamma_obs_ka, Gamma_obs), fit=(Gamma_fit_ka, Gamma_fit, Gamma_fit_hw), yr=[34.5, 84.3], tv=[40, 60, 80], tt=["40", "60", "80"]),
    dict(obs=(Neor_obs_ka, Neor_obs), fit=(Neor_fit_ka, Neor_fit, Neor_fit_hw), yr=[10427, -3147], tv=[2000, 6000], tt=["2000", "6000"], tfs=8),
    dict(obs=(Eski_obs_ka, Eski_obs), fit=(Eski_fit_ka, Eski_fit, Eski_fit_hw), yr=[4.94, -3.03], tv=[0, 4], tt=["0", "4"]),
    dict(obs=(Gol_obs_ka, Gol_obs), fit=(Gol_fit_ka, Gol_fit, Gol_fit_hw), yr=[1.85, -9.92], tv=[-8, -5, -2], tt=[M + "8", M + "5", M + "2"]),
    dict(obs=(Pol_obs_ka, Pol_obs), fit=(Pol_fit_ka, Pol_fit, Pol_fit_hw), yr=[-9.09, -6.79], tv=[-9, -8, -7], tt=[M + "9", M + "8", M + "7"]),
]

# ---------------- figure ----------------
COLX = [(49.3, 463.3), (471.7, 885.0)]
TOP0, PH = 57.3, 85.5
BAND = "rgb(212,212,212)"
RED = "rgb(245,20,20)"
GREEN = "rgb(20,140,20)"

fig = go.Figure()
layout = {}
n = 0
for col, plist in enumerate([LEFT, RIGHT]):
    for row, p in enumerate(plist):
        n += 1
        sfx = "" if n == 1 else str(n)
        xa, ya = "x" + sfx, "y" + sfx
        fk, fv, fh = p["fit"]
        up = [v + h for v, h in zip(fv, fh)]
        lo = [v - h for v, h in zip(fv, fh)]
        kk = list(fk[:len(up)])
        fig.add_trace(go.Scatter(x=kk + kk[::-1], y=up + lo[::-1], fill="toself", fillcolor=BAND,
                                 line=dict(width=0), mode="lines", hoverinfo="skip", xaxis=xa, yaxis=ya))
        rk = [k for k in fk if k >= SPLIT]
        rv = [v for k, v in zip(fk, fv) if k >= SPLIT]
        gk = [k for k in fk if k <= SPLIT]
        gv = [v for k, v in zip(fk, fv) if k <= SPLIT]
        fig.add_trace(go.Scatter(x=rk, y=rv, mode="lines", line=dict(color=RED, width=1.8, dash="6px,3px"),
                                 xaxis=xa, yaxis=ya))
        fig.add_trace(go.Scatter(x=gk, y=gv, mode="lines", line=dict(color=GREEN, width=1.8, dash="6px,3px"),
                                 xaxis=xa, yaxis=ya))
        ok, ov = p["obs"]
        fig.add_trace(go.Scatter(x=ok, y=ov, mode="lines", line=dict(color="black", width=1.5),
                                 xaxis=xa, yaxis=ya))
        top = TOP0 + row * PH
        bot = min(top + PH, H)
        x0, x1 = COLX[col]
        layout["xaxis" + sfx] = dict(
            domain=[x0 / W, x1 / W], range=[7.5, 2.7], anchor=ya, side="top",
            showline=True, linecolor="black", linewidth=1, mirror="ticks",
            ticks="inside", ticklen=6, tickcolor="black", tickvals=[7, 6, 5, 4, 3],
            ticktext=["7", "6", "5", "4", "3"], showticklabels=(row == 0),
            tickfont=dict(family=FONT, size=15, color="black"),
            minor=dict(ticks="inside", ticklen=3, dtick=0.2, tick0=0, tickcolor="black", showgrid=False),
            showgrid=False, zeroline=False, fixedrange=True)
        layout["yaxis" + sfx] = dict(
            domain=[1 - bot / H, 1 - top / H], range=p["yr"], anchor=xa,
            side="left" if col == 0 else "right",
            showline=True, linecolor="black", linewidth=1, mirror="ticks",
            ticks="inside", ticklen=5, tickcolor="black", tickvals=p["tv"], ticktext=p["tt"],
            tickangle=-90 if col == 0 else 90,
            tickfont=dict(family=FONT, size=p.get("tfs", 11), color="black"),
            showgrid=False, zeroline=False, fixedrange=True)

# event lines
shapes = []
for k in EVENTS:
    shapes.append(dict(type="line", xref="x", yref="paper", x0=k, x1=k, y0=0, y1=1 - TOP0 / H,
                       line=dict(color="black", width=1, dash="2px,2px")))
    shapes.append(dict(type="line", xref="x11", yref="paper", x0=k, x1=k,
                       y0=1 - (TOP0 + 9 * PH) / H, y1=1 - TOP0 / H,
                       line=dict(color="black", width=1, dash="2px,2px")))

anns = []


def ann(text, x, y, size=16, xanchor="left", angle=0, align="left"):
    anns.append(dict(text=text, x=x / W, y=1 - y / H, xref="paper", yref="paper", showarrow=False,
                     xanchor=xanchor, yanchor="middle", textangle=angle, align=align,
                     font=dict(family=FONT, size=size, color="black")))


# top axis titles
ann("ka (BP)", 255.7, 18, 17, "center")
ann("ka (BP)", 677.7, 18, 17, "center")

# panel labels
labels = [
    ("A.M5-422", 57, 105, 16), ("Gulf of Oman", 72, 121, 16),
    ("C.Tel Akko", 57, 207, 16),
    ("E.GeoTü-SL148", 51, 242, 13.5), ("Aegean Sea", 70, 257, 13.5),
    ("G.Buca della", 58, 368, 16), ("Renella", 83, 384, 16),
    ("β.Lake Dojran", 111, 461, 16),
    ("δ.Lake Trifoglietti", 145, 502, 16),
    ("b.Lake Van", 96, 638, 16),
    ("d.Kocain Cave", 106, 700, 16),
    ("f.Skala Marion Cave", 78, 782, 16),
    ("h.Grotta di Ernesto", 177, 899, 16),
    ("B.GeoB 5836-2", 479, 105, 16), ("Red Sea", 500, 121, 16),
    ("D.Jeita Cave", 484, 212, 16),
    ("F.Lake Ledro", 483, 245, 16),
    ("α.GeoTü-SL148", 632, 329, 13.5), ("Aegean Sea", 651, 344, 13.5),
    ("γ.Lake Ohrid", 534, 462, 16),
    ("a.Neor Lake", 480, 555, 16),
    ("c.Eski Acıgöl", 491, 626, 16),
    ("e.Gölhisar", 655, 670, 16),
    ("g.Poleva Cave", 496, 761, 16),
]
for t, x, y, s in labels:
    ann(t, x, y, s)

# y-axis titles (left column read upward, right column read downward)
lt = [
    ("CaCO<sub>3</sub> (%)", 20, 100, 15),
    ("Annual Precip.<br>(mm/yr)", 16.5, 169, 9.5),
    ("Smect./Ill.", 20, 273, 15),
    ("δ<sup>18</sup>O (‰)", 20, 347, 15),
    ("CaCO<sub>3</sub> (%)", 20, 442, 15),
    ("Summer precip.<br>(mm)", 18, 525, 12.5),
    ("Quartz(%)", 20, 611, 15),
    ("δ<sup>13</sup>C (‰)", 20, 701, 15),
    ("δ<sup>18</sup>O (‰)", 20, 787, 15),
    ("δ<sup>13</sup>C (‰)", 20, 866, 15),
]
for t, x, y, s in lt:
    ann(t, x, y, s, "center", -90, "right")
rt = [
    ("δ<sup>18</sup>O (‰)", 915, 87, 15),
    ("δ<sup>18</sup>O (‰)", 915, 180, 15),
    ("Summer precip.<br>(mm)", 916.5, 271, 12.5),
    ("δ<sup>13</sup>C<sub>Um</sub> (‰)", 911, 348, 15),
    ("CaCO<sub>3</sub> (%)", 915, 444, 15),
    ("Ti (cps)", 912, 532, 15),
    ("δ<sup>18</sup>O (‰)", 915, 620, 15),
    ("δ<sup>18</sup>O (‰)", 915, 703, 15),
    ("δ<sup>18</sup>O (‰)", 915, 778, 15),
]
for t, x, y, s in rt:
    ann(t, x, y, s, "center", 90, "left")

fig.update_layout(
    width=W, height=H, margin=dict(l=0, r=0, t=0, b=0, pad=0),
    paper_bgcolor="white", plot_bgcolor="white", showlegend=False,
    font=dict(family=FONT, color="black"), shapes=shapes, annotations=anns, **layout)

fig.write_html("out.html", config={"displayModeBar": False},
               post_script="document.body.style.margin='0';document.body.style.padding='0';"
                           "document.body.style.overflow='hidden';")
